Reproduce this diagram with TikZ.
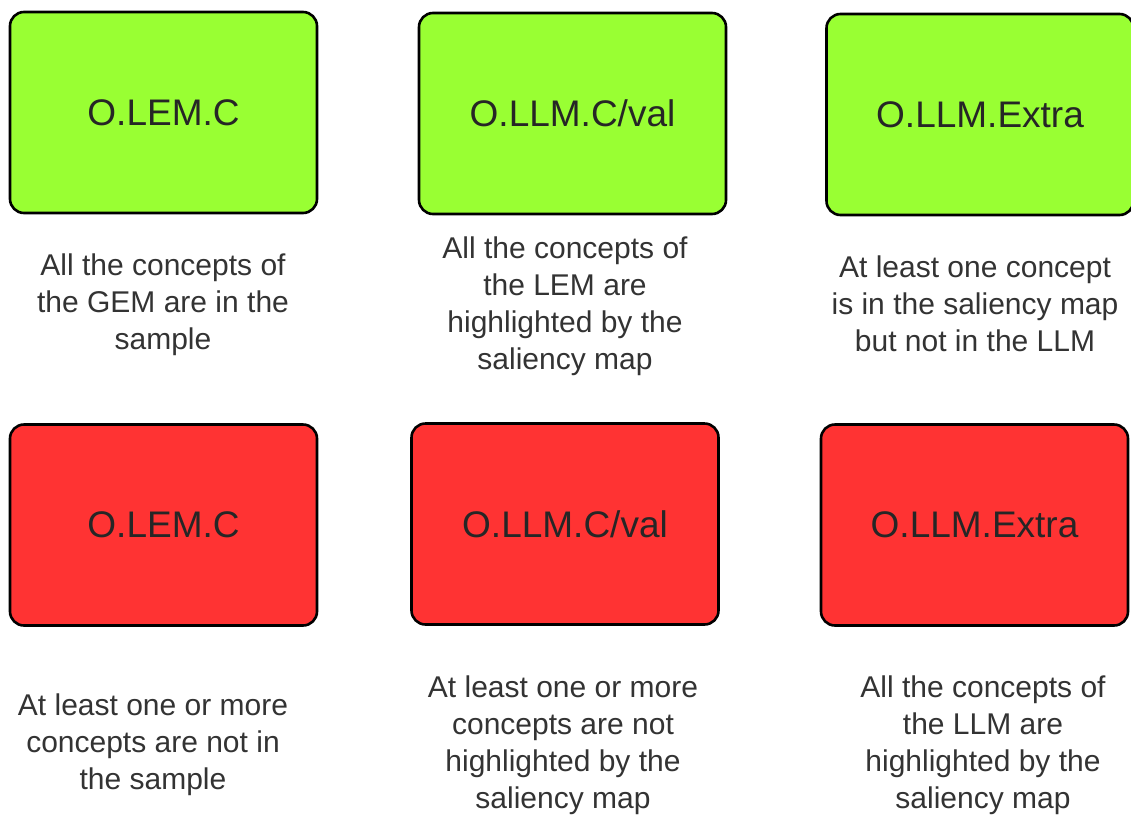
\documentclass[tikz,border=0pt]{standalone}
\usepackage{fontspec}
\setmainfont{Liberation Sans}
\usetikzlibrary{positioning}

\definecolor{okgreen}{RGB}{153,255,51}
\definecolor{failred}{RGB}{255,51,51}
\definecolor{notegray}{RGB}{51,51,51}

\begin{document}
\begin{tikzpicture}[x=1pt,y=-1pt,
  box/.style={draw=black,line width=2.6pt,rounded corners=14pt,minimum width=307pt,minimum height=201pt,inner sep=0pt,font=\fontsize{37}{44}\selectfont,text=black!85},
  okbox/.style={box,fill=okgreen},
  failbox/.style={box,fill=failred},
  note/.style={align=center,text=notegray,font=\fontsize{30}{37}\selectfont,inner sep=0pt}]
\useasboundingbox (0,0) rectangle (1131,817);

% passing outcomes
\node[okbox] (okLEM) at (163.5,112.5) {O.LEM.C};
\node[okbox] (okLLM) at (572.5,113.5) {O.LLM.C/val};
\node[okbox] (okExtra) at (980,114.5) {O.LLM.Extra};

\node[note] (okLEMnote) at (163,305) {All the concepts of\\the GEM are in the\\sample};
\node[note] (okLLMnote) at (565,306) {All the concepts of\\the LEM are\\highlighted by the\\saliency map};
\node[note] (okExtranote) at (975,304) {At least one concept\\is in the saliency map\\but not in the LLM};

% failing outcomes
\node[failbox] (failLEM) at (163.5,525) {O.LEM.C};
\node[failbox] (failLLM) at (565,524) {O.LLM.C/val};
\node[failbox] (failExtra) at (974.5,525) {O.LLM.Extra};

\node[note] (failLEMnote) at (153,744.5) {At least one or more\\concepts are not in\\the sample};
\node[note] (failLLMnote) at (563,745) {At least one or more\\concepts are not\\highlighted by the\\saliency map};
\node[note] (failExtranote) at (983,745) {All the concepts of\\the LLM are\\highlighted by the\\saliency map};
\end{tikzpicture}
\end{document}
